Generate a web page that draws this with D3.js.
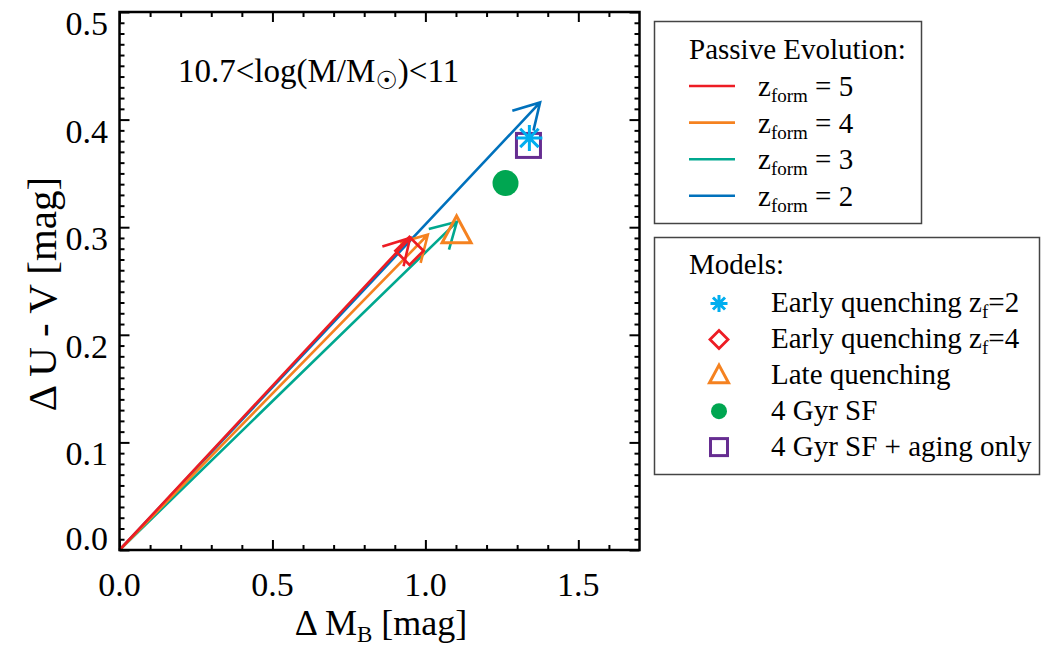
<!DOCTYPE html>
<html>
<head>
<meta charset="utf-8">
<script src="https://cdn.jsdelivr.net/npm/d3@7"></script>
<style>
  body { margin: 0; background: #fff; }
  svg { display: block; }
</style>
</head>
<body>
<svg id="chart" width="1042" height="645" font-family="'Liberation Serif', 'Times New Roman', Tinos, 'DejaVu Serif', serif"></svg>
<script>
// ---------------- DATA ----------------
const xTickLabels = ["0.0", "0.5", "1.0", "1.5"];
const yTickLabels = ["0.0", "0.1", "0.2", "0.3", "0.4", "0.5"];

// Passive evolution vectors (start at origin, end at arrow tip)
const zformNames = ["5", "4", "3", "2"];
const zformColors = ["#ED1C24", "#F58220", "#00A88F", "#0071BC"];
const arrowEndX = [0.950, 1.008, 1.103, 1.375];
const arrowEndY = [0.290, 0.293, 0.305, 0.416];

// Model points
const modelNames = ["Early quenching z_f=2", "Early quenching z_f=4", "Late quenching", "4 Gyr SF", "4 Gyr SF + aging only"];
const modelShapes = ["asterisk", "diamond", "triangle", "circle", "square"];
const modelColors = ["#00AEEF", "#ED1C24", "#F58220", "#00A651", "#662D91"];
const modelX = [1.340, 0.948, 1.102, 1.262, 1.337];
const modelY = [0.383, 0.278, 0.296, 0.341, 0.376];

// ---------------- LAYOUT ----------------
const svg = d3.select("#chart");
const L = 119.5, R = 639.5, T = 12, B = 550;
const x = d3.scaleLinear().domain([0, 1.7]).range([L, R]);
const y = d3.scaleLinear().domain([0, 0.5]).range([B, T]);

// ticks (inward on all four sides)
const xMajor = xTickLabels.map(Number);
const xMinor = d3.range(0, 17).map(i => i / 10).filter(v => !xMajor.some(m => Math.abs(m - v) < 1e-9));
const yMajor = yTickLabels.map(Number);
const yMinor = d3.range(0, 51).map(i => i / 100).filter(v => !yMajor.some(m => Math.abs(m - v) < 1e-9));

function tickAxis(axisFn, scale, values, size, transform) {
  const g = svg.append("g").attr("transform", transform)
    .call(axisFn(scale).tickValues(values).tickSize(size).tickFormat(""));
  g.select(".domain").remove();
  g.selectAll(".tick line").attr("stroke", "#000").attr("stroke-width", 2);
}
tickAxis(d3.axisBottom, x, xMajor, -10, `translate(0,${B})`);
tickAxis(d3.axisBottom, x, xMinor, -5, `translate(0,${B})`);
tickAxis(d3.axisTop, x, xMajor, -10, `translate(0,${T})`);
tickAxis(d3.axisTop, x, xMinor, -5, `translate(0,${T})`);
tickAxis(d3.axisLeft, y, yMajor, -10, `translate(${L},0)`);
tickAxis(d3.axisLeft, y, yMinor, -5, `translate(${L},0)`);
tickAxis(d3.axisRight, y, yMajor, -10, `translate(${R},0)`);
tickAxis(d3.axisRight, y, yMinor, -5, `translate(${R},0)`);

// tick labels
svg.append("g").selectAll("text").data(xTickLabels).join("text")
  .attr("x", d => x(+d)).attr("y", 596)
  .attr("text-anchor", "middle").attr("font-size", 34).text(d => d);
svg.append("g").selectAll("text").data(yTickLabels).join("text")
  .attr("x", 108).attr("y", d => +d === 0 ? y(0) - 0.5 : y(+d) + 23)
  .attr("text-anchor", "end").attr("font-size", 34).text(d => d);

// axis titles
const xt = svg.append("text").attr("x", 381).attr("y", 635)
  .attr("text-anchor", "middle").attr("font-size", 36);
xt.append("tspan").text("Δ M");
xt.append("tspan").attr("font-size", 23).attr("dy", 7).text("B");
xt.append("tspan").attr("dy", -7).text(" [mag]");

svg.append("text").attr("transform", "translate(56,294) rotate(-90)")
  .attr("text-anchor", "middle").attr("font-size", 41).text("Δ U - V [mag]");

// annotation
const an = svg.append("text").attr("x", 178).attr("y", 82).attr("font-size", 33);
an.append("tspan").text("10.7<log(M/M");
an.append("tspan").attr("font-family", "DejaVu Sans").attr("font-size", 25).attr("dy", 7).text("☉");
an.append("tspan").attr("dy", -7).text(")<11");

// ---------------- ARROWS ----------------
const drawOrder = [3, 2, 1, 0];
const headLen = 29, headAng = Math.PI / 6;
drawOrder.forEach(i => {
  const x0 = x(0), y0 = y(0);
  const x1 = x(arrowEndX[i]), y1 = y(arrowEndY[i]);
  const ang = Math.atan2(y0 - y1, x0 - x1); // direction from tip back to origin
  const b1 = [x1 + headLen * Math.cos(ang + headAng), y1 + headLen * Math.sin(ang + headAng)];
  const b2 = [x1 + headLen * Math.cos(ang - headAng), y1 + headLen * Math.sin(ang - headAng)];
  const p = d3.path();
  p.moveTo(x0, y0); p.lineTo(x1, y1);
  p.moveTo(b1[0], b1[1]); p.lineTo(x1, y1); p.lineTo(b2[0], b2[1]);
  svg.append("path").attr("d", p.toString()).attr("fill", "none")
    .attr("stroke", zformColors[i]).attr("stroke-width", 2.6)
    .attr("stroke-linejoin", "miter").attr("stroke-linecap", "butt");
});

// ---------------- MARKERS ----------------
function marker(g, shape, cx, cy, s, color) {
  if (shape === "asterisk") {
    const p = d3.path();
    for (let k = 0; k < 4; k++) {
      const a = k * Math.PI / 4;
      p.moveTo(cx - s * Math.cos(a), cy - s * Math.sin(a));
      p.lineTo(cx + s * Math.cos(a), cy + s * Math.sin(a));
    }
    g.append("path").attr("d", p.toString()).attr("stroke", color).attr("stroke-width", 3).attr("fill", "none");
  } else if (shape === "diamond") {
    g.append("path").attr("d", `M${cx},${cy - s}L${cx + s},${cy}L${cx},${cy + s}L${cx - s},${cy}Z`)
      .attr("fill", "none").attr("stroke", color).attr("stroke-width", 2.8).attr("stroke-linejoin", "miter");
  } else if (shape === "triangle") {
    const h = s * 1.85;
    g.append("path").attr("d", `M${cx},${cy - h * 0.58}L${cx + s},${cy + h * 0.42}L${cx - s},${cy + h * 0.42}Z`)
      .attr("fill", "none").attr("stroke", color).attr("stroke-width", 3).attr("stroke-linejoin", "miter");
  } else if (shape === "circle") {
    g.append("circle").attr("cx", cx).attr("cy", cy).attr("r", s).attr("fill", color);
  } else if (shape === "square") {
    g.append("rect").attr("x", cx - s).attr("y", cy - s).attr("width", 2 * s).attr("height", 2 * s)
      .attr("fill", "none").attr("stroke", color).attr("stroke-width", 3);
  }
}
const plotSizes = { asterisk: 13, diamond: 14, triangle: 14.5, circle: 13, square: 12 };
const mg = svg.append("g");
[4, 3, 2, 1, 0].forEach(i => {
  marker(mg, modelShapes[i], x(modelX[i]), y(modelY[i]), plotSizes[modelShapes[i]], modelColors[i]);
});

// frame
svg.append("rect").attr("x", L).attr("y", T).attr("width", R - L).attr("height", B - T)
  .attr("fill", "none").attr("stroke", "#000").attr("stroke-width", 2.5);

// ---------------- LEGENDS ----------------
svg.append("rect").attr("x", 654.5).attr("y", 21.5).attr("width", 267).attr("height", 202)
  .attr("fill", "none").attr("stroke", "#444").attr("stroke-width", 1.5);
svg.append("text").attr("x", 689).attr("y", 58.5).attr("font-size", 29).text("Passive Evolution:");
zformNames.forEach((nm, i) => {
  const ly = 86 + i * 36.6;
  svg.append("line").attr("x1", 689).attr("x2", 735).attr("y1", ly).attr("y2", ly)
    .attr("stroke", zformColors[i]).attr("stroke-width", 2.6);
  const t = svg.append("text").attr("x", 758).attr("y", ly + 10).attr("font-size", 29);
  t.append("tspan").text("z");
  t.append("tspan").attr("font-size", 19).attr("dy", 6).text("form");
  t.append("tspan").attr("dy", -6).text(" = " + nm);
});

svg.append("rect").attr("x", 654.5).attr("y", 237.5).attr("width", 385).attr("height", 237)
  .attr("fill", "none").attr("stroke", "#444").attr("stroke-width", 1.5);
svg.append("text").attr("x", 689).attr("y", 274).attr("font-size", 29).text("Models:");
const legSizes = { asterisk: 8.5, diamond: 9, triangle: 9.5, circle: 8, square: 8.5 };
modelNames.forEach((nm, i) => {
  const cy = 303.5 + i * 35.9;
  marker(svg, modelShapes[i], 719, cy, legSizes[modelShapes[i]], modelColors[i]);
  const t = svg.append("text").attr("x", 771).attr("y", cy + 8.5).attr("font-size", 29);
  const parts = nm.split("_");
  if (parts.length === 2) {
    t.append("tspan").text(parts[0]);
    const rest = parts[1];
    t.append("tspan").attr("font-size", 19).attr("dy", 6).text(rest[0]);
    t.append("tspan").attr("dy", -6).text(rest.slice(1));
  } else {
    t.text(nm);
  }
});
</script>
</body>
</html>
